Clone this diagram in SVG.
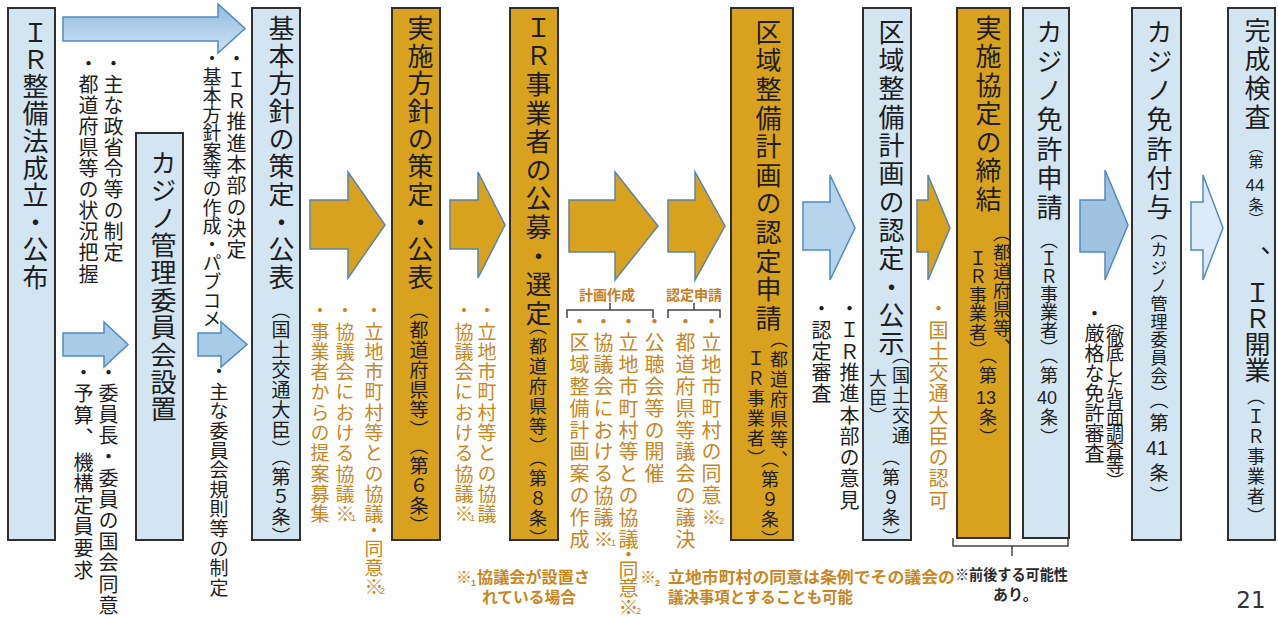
<svg xmlns="http://www.w3.org/2000/svg" width="1278" height="618" viewBox="0 0 1278 618">
<defs>
<style>
.bb{fill:#d3e5f1;stroke:#2f2f2f;stroke-width:2}
.bg{fill:#d8a21e;stroke:#2f2f2f;stroke-width:2}
.v{writing-mode:vertical-rl;font-family:'Liberation Sans','Noto Sans CJK JP',sans-serif}
.h{font-family:'Liberation Sans','Noto Sans CJK JP',sans-serif}
.k{fill:#1e1e1e}
.o{fill:#c8861e}
.f26{font-size:26px}
.f20{font-size:20px}
.f19{font-size:19px}
.f18{font-size:18px}
.ab{fill:#a8cbe8;stroke:#4f8cc0;stroke-width:1.5}
.ag{fill:#d8a21e;stroke:#5a84a8;stroke-width:1.5}
.br{fill:none;stroke:#444;stroke-width:1.5}
</style>
<linearGradient id="gA" x1="0" y1="0" x2="0" y2="1">
<stop offset="0" stop-color="#8fbbe0"/><stop offset="1" stop-color="#cfe3f3"/>
</linearGradient>
</defs>
<rect width="1278" height="618" fill="#ffffff"/>

<g id="connectors">
<polygon class="ab" style="fill:url(#gA)" points="63,17 218,17 218,4 245,28.5 218,53 218,41 63,41"/>
<polygon class="ab" points="63,333 104,333 104,322 128,344.5 104,367 104,356 63,356"/>
<polygon class="ab" points="198,333 221,333 221,322 247,344.5 221,367 221,356 198,356"/>
<polygon class="ag" points="310,200 348,200 348,172 385,225 348,278 348,249 310,249"/>
<polygon class="ag" points="450,200 478,200 478,172 505,225 478,278 478,249 450,249"/>
<polygon class="ag" points="569,200 615,200 615,172 658,226 615,280 615,252 569,252"/>
<polygon class="ag" points="668,200 695,200 695,172 725,226 695,280 695,252 668,252"/>
<polygon class="ab" style="fill:#b6d4ec" points="803,202 830,202 830,175 855,228 830,280 830,250 803,250"/>
<polygon class="ag" points="917,200 928,200 928,175 950,228 928,280 928,252 917,252"/>
<polygon class="ab" style="fill:#9fc2e0" points="1080,200 1105,200 1105,170 1128,225 1105,280 1105,252 1080,252"/>
<polygon class="ab" style="fill:#dcebf7" points="1191,202 1203,202 1203,175 1223,228 1203,280 1203,250 1191,250"/>
<path class="br" d="M567,318 V310 H653 V318 M610,310 V303"/>
<path class="br" d="M668,318 V310 H720 V318 M694,310 V303"/>
<path class="br" d="M953,538 V546 H1068 V538 M1012,546 V556"/>
<text class="h" x="607" y="300" text-anchor="middle" font-size="14" font-weight="bold" fill="#c87d1e">計画作成</text>
<text class="h" x="694" y="300" text-anchor="middle" font-size="14" font-weight="bold" fill="#c87d1e">認定申請</text>
</g>

<g id="n1">
<rect class="bb" x="8" y="8" width="47" height="532"/>
<text class="v k f26" x="33" y="19" letter-spacing="1.2">ＩＲ整備法成立・公布</text>
</g>
<g id="n1-notes">
<text class="v k f20" x="112" y="53" letter-spacing="1.1">・主な政省令等の制定</text>
<text class="v k f20" x="87" y="53" letter-spacing="1.1">・都道府県等の状況把握</text>
<text class="v k f20" x="107" y="362" letter-spacing="1.2">・委員長・委員の国会同意</text>
<text class="v k f20" x="82" y="362" letter-spacing="1.8">・予算、</text>
<text class="v k f20" x="82" y="452" letter-spacing="1.6">機構定員要求</text>
</g>

<g id="n2">
<rect class="bb" x="136" y="133" width="47" height="407"/>
<text class="v k f26" x="161" y="150" letter-spacing="1.4">カジノ管理委員会設置</text>
</g>
<g id="n2-notes">
<text class="v k f20" x="235" y="48" letter-spacing="1.3">・ＩＲ推進本部の決定</text>
<text class="v k f19" x="210" y="49" letter-spacing="-0.4">・基本方針案等の作成・パブコメ</text>
<text class="v k f19" x="217" y="362.5" letter-spacing="0.6">・主な委員会規則等の制定</text>
</g>

<g id="n3">
<rect class="bb" x="252" y="8" width="48" height="532"/>
<text class="v k f26" x="279" y="15" letter-spacing="1.7">基本方針の策定・公表</text>
<text class="v k f19" x="279" y="300" letter-spacing="1">（国土交通大臣）</text>
<text class="v k f19" x="279" y="447" letter-spacing="1">（第５条）</text>
</g>
<g id="n3-notes">
<text class="v o f19" x="372" y="301.5" letter-spacing="1.3">・立地市町村等との協議</text>
<text class="v o f19" x="372" y="521.5">・</text>
<text class="v o f19" x="372" y="539.5">同意※</text>
<text class="h o" x="380" y="594" font-size="9">2</text>
<text class="v o f19" x="343" y="301.5" letter-spacing="1.3">・協議会における協議※</text>
<text class="h o" x="351" y="521" font-size="9">1</text>
<text class="v o f19" x="318" y="301.5" letter-spacing="1.3">・事業者からの提案募集</text>
</g>

<g id="n4">
<rect class="bg" x="392" y="8" width="48" height="532"/>
<text class="v k f26" x="418" y="15" letter-spacing="1.7">実施方針の策定・公表</text>
<text class="v k f19" x="417" y="300" letter-spacing="1">（都道府県等）</text>
<text class="v k f19" x="417" y="436" letter-spacing="1">（第６条）</text>
</g>
<g id="n4-notes">
<text class="v o f19" x="485" y="301.5" letter-spacing="1.3">・立地市町村等との協議</text>
<text class="v o f19" x="462" y="301.5" letter-spacing="1.3">・協議会における協議※</text>
<text class="h o" x="470" y="521" font-size="9">1</text>
</g>

<g id="n5">
<rect class="bg" x="510" y="8" width="48" height="532"/>
<text class="v k f26" x="536" y="14" letter-spacing="2.6">ＩＲ事業者の公募・選定</text>
<text class="v k f18" x="536" y="317" letter-spacing="2">（都道府県等）</text>
<text class="v k f18" x="536" y="449" letter-spacing="2">（第８条）</text>
</g>
<g id="n5-notes">
<text class="v o f20" x="653" y="311" letter-spacing="1.8">・公聴会等の開催</text>
<text class="v o f20" x="627" y="311" letter-spacing="1.8">・立地市町村等との協議</text>
<text class="v o f20" x="627" y="544">・</text>
<text class="v o f20" x="627" y="560" letter-spacing="-1.5">同意※</text>
<text class="h o" x="636" y="614" font-size="9">2</text>
<text class="v o f20" x="602" y="311" letter-spacing="1.8">・協議会における協議※</text>
<text class="h o" x="611" y="546" font-size="9">1</text>
<text class="v o f20" x="578" y="311" letter-spacing="1.8">・区域整備計画案の作成</text>
<text class="v o f20" x="710" y="311" letter-spacing="1.8">・立地市町村の同意※</text>
<text class="h o" x="719" y="524" font-size="9">2</text>
<text class="v o f20" x="684" y="311" letter-spacing="1.8">・都道府県等議会の議決</text>
</g>

<g id="n6">
<rect class="bg" x="731" y="8" width="62" height="532"/>
<text class="v k f26" x="766" y="19" letter-spacing="2.6">区域整備計画の認定申請</text>
<text class="v k f18" x="777" y="330" letter-spacing="2">（都道府県等、</text>
<text class="v k f18" x="754" y="349" letter-spacing="2">ＩＲ事業者）</text>
<text class="v k f18" x="768" y="450" letter-spacing="2">（第９条）</text>
</g>
<g id="n6-notes">
<text class="v k f20" x="848" y="298.75" letter-spacing="1.25">・ＩＲ推進本部の意見</text>
<text class="v k f20" x="820" y="298.75" letter-spacing="1.25">・認定審査</text>
</g>

<g id="n7">
<rect class="bb" x="863" y="8" width="48" height="532"/>
<text class="v k f26" x="889" y="19" letter-spacing="2.3">区域整備計画の認定・公示</text>
<text class="v k f18" x="899" y="346" letter-spacing="2">（国土交通</text>
<text class="v k f18" x="876" y="369" letter-spacing="1">大臣）</text>
<text class="v k f18" x="889" y="448" letter-spacing="2">（第９条）</text>
</g>
<g id="n7-notes">
<text class="v o f20" x="937" y="298.75" letter-spacing="1.25">・国土交通大臣の認可</text>
</g>

<g id="n8">
<rect class="bg" x="957" y="8" width="53" height="530"/>
<text class="v k f26" x="986" y="15" letter-spacing="2.5">実施協定の締結</text>
<text class="v k f18" x="1000" y="224" letter-spacing="1">（都道府県等、</text>
<text class="v k f18" x="976" y="249" letter-spacing="0.5">ＩＲ事業者）</text>
<text class="v k f18" x="986" y="346" letter-spacing="2">（第</text>
<text class="h k f18" x="986" y="403.5" text-anchor="middle">13</text>
<text class="v k f18" x="986" y="408" letter-spacing="2">条）</text>
</g>

<g id="n9">
<rect class="bb" x="1023" y="8" width="46" height="530"/>
<text class="v k f26" x="1047" y="19" letter-spacing="3.2">カジノ免許申請</text>
<text class="v k f18" x="1047" y="231">（ＩＲ事業者）</text>
<text class="v k f18" x="1047" y="346" letter-spacing="2">（第</text>
<text class="h k f18" x="1047" y="403.5" text-anchor="middle">40</text>
<text class="v k f18" x="1047" y="408" letter-spacing="2">条）</text>
</g>
<g id="n9-notes">
<text class="v k f20" x="1093" y="303">・厳格な免許審査</text>
<text class="v k f18" x="1113" y="312" letter-spacing="-2">（徹底した背面調査等）</text>
</g>

<g id="n10">
<rect class="bb" x="1132" y="8" width="49" height="532"/>
<text class="v k f26" x="1157" y="19" letter-spacing="3.2">カジノ免許付与</text>
<text class="v k" x="1157" y="223" font-size="17" letter-spacing="1">（カジノ管理委員会）</text>
<text class="v k f19" x="1157" y="390" letter-spacing="4">（第</text>
<text class="h k" x="1157" y="455" font-size="20" text-anchor="middle">41</text>
<text class="v k f19" x="1157" y="463" letter-spacing="4">条）</text>
</g>

<g id="n11">
<rect class="bb" x="1228" y="8" width="47" height="532"/>
<text class="v k f26" x="1255" y="17" letter-spacing="3">完成検査</text>
<text class="v k" x="1255" y="139" font-size="15">（第</text>
<text class="h k" x="1255" y="191" font-size="17" text-anchor="middle">44</text>
<text class="v k" x="1255" y="197" font-size="15">条）</text>
<text class="v k f26" x="1255" y="246">、</text>
<text class="v k f26" x="1255" y="279">ＩＲ開業</text>
<text class="v k f18" x="1254" y="387" letter-spacing="2">（ＩＲ事業者）</text>
</g>

<g id="footnotes">
<text class="h o" x="456" y="583" font-size="16" font-weight="bold">※</text>
<text class="h o" x="471" y="586" font-size="9" font-weight="bold">1</text>
<text class="h o" x="477" y="583" font-size="16" font-weight="bold" textLength="113" lengthAdjust="spacingAndGlyphs">協議会が設置さ</text>
<text class="h o" x="482" y="603" font-size="16" font-weight="bold" textLength="94" lengthAdjust="spacingAndGlyphs">れている場合</text>
<text class="h o" x="640" y="583" font-size="16" font-weight="bold">※</text>
<text class="h o" x="655" y="586" font-size="9" font-weight="bold">2</text>
<text class="h o" x="668" y="583" font-size="16" font-weight="bold" textLength="287" lengthAdjust="spacingAndGlyphs">立地市町村の同意は条例でその議会の</text>
<text class="h o" x="668" y="603" font-size="16" font-weight="bold" textLength="185" lengthAdjust="spacingAndGlyphs">議決事項とすることも可能</text>
<text class="h" x="955" y="580" font-size="15" font-weight="bold" fill="#2a2a2a" textLength="113" lengthAdjust="spacingAndGlyphs">※前後する可能性</text>
<text class="h" x="993" y="600" font-size="15" font-weight="bold" fill="#2a2a2a">あり。</text>
<text x="1251" y="608" font-family="'DejaVu Sans',sans-serif" font-size="23" fill="#333" text-anchor="middle">21</text>
</g>
</svg>
